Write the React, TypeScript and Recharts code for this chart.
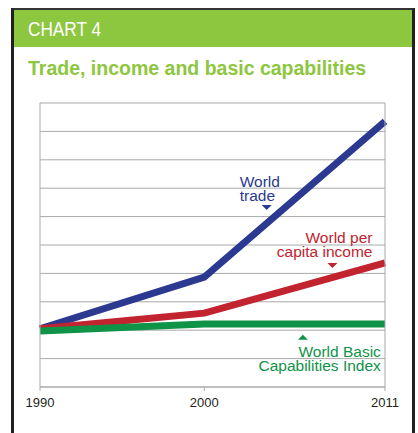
import React from "react";
import { LineChart, Line, XAxis, YAxis, CartesianGrid, ReferenceDot } from "recharts";

// values (index units, grid step = 1)
const years = [1990, 2000, 2011];
const worldTrade = [2.05, 3.87, 9.35];
const worldIncome = [2.05, 2.6, 4.37];
const basicCapabilities = [1.97, 2.22, 2.22];
const gridValues = [0, 1, 2, 3, 4, 5, 6, 7, 8, 9, 10];
const yearTicks = [1990, 2000, 2011];

const tradeLabel = ["World", "trade"];
const incomeLabel = ["World per", "capita income"];
const bciLabel = ["World Basic", "Capabilities Index"];

const data = years.map((year, i) => ({
  year,
  trade: worldTrade[i],
  income: worldIncome[i],
  bci: basicCapabilities[i],
}));

const BLUE = "#2b3990";
const RED = "#c1232f";
const GREEN = "#0f9347";
const HEADER = "#8dc63f";
const GRID = "#a7a9ac";
const INK = "#231f20";

const labelFont = "'Liberation Sans', Arial, sans-serif";

function Callout({ cx, cy, lines, color, up, dx, dy, anchor }: any) {
  if (cx == null || cy == null) return null;
  const tri = up
    ? `${cx - 5},${cy + 2} ${cx + 5},${cy + 2} ${cx},${cy - 3}`
    : `${cx - 5},${cy - 2} ${cx + 5},${cy - 2} ${cx},${cy + 3}`;
  return (
    <g>
      <polygon points={tri} fill={color} />
      <text x={cx + dx} y={cy + dy} textAnchor={anchor} fill={color} fontSize={15.5} fontFamily={labelFont}>
        {lines.map((t: string, i: number) => (
          <tspan key={t} x={cx + dx} dy={i === 0 ? 0 : 14}>
            {t}
          </tspan>
        ))}
      </text>
    </g>
  );
}

const NoTick = () => <g />;

export default function App() {
  return (
    <div style={{ position: "absolute", left: 0, top: 0, width: 418, height: 433, overflow: "hidden", background: "#fff" }}>
      {/* frame + header */}
      <div
        style={{
          position: "absolute", left: 11, top: 8, width: 398, height: 430,
          borderLeft: `3px solid ${INK}`, borderTop: `2px solid #333`, borderRight: `3px solid ${INK}`,
        }}
      >
        <div style={{ height: 37, background: HEADER, position: "relative" }}>
          <span
            style={{
              position: "absolute", left: 14, top: 8, color: "#fff", fontFamily: labelFont,
              fontSize: 21, lineHeight: "21px", transform: "scaleX(0.82)", transformOrigin: "left",
              whiteSpace: "nowrap",
            }}
          >
            CHART 4
          </span>
        </div>
      </div>
      <div
        style={{
          position: "absolute", left: 28, top: 56, color: HEADER, fontFamily: labelFont,
          fontWeight: "bold", fontSize: 20, lineHeight: "24px", whiteSpace: "nowrap",
          transform: "scaleX(0.975)", transformOrigin: "left",
        }}
      >
        Trade, income and basic capabilities
      </div>

      <div style={{ position: "absolute", left: 0, top: 0 }}>
        <LineChart width={418} height={433} data={data} margin={{ top: 103, right: 32, bottom: 16, left: 39 }}>
          <CartesianGrid
            yAxisId="main"
            vertical={false}
            horizontalValues={gridValues}
            stroke={GRID}
            strokeWidth={1}
          />
          <XAxis
            dataKey="year"
            type="number"
            domain={[1990, 2011]}
            ticks={yearTicks}
            interval={0}
            height={30}
            axisLine={{ stroke: GRID }}
            tickLine={{ stroke: GRID }}
            tickSize={4}
            tickMargin={7}
            tick={{ fill: INK, fontSize: 13, fontFamily: labelFont }}
          />
          <YAxis
            yAxisId="main"
            type="number"
            domain={[0, 10]}
            ticks={gridValues}
            interval={0}
            width={1}
            tick={NoTick}
            tickLine={false}
            axisLine={{ stroke: GRID }}
          />
          <YAxis
            yAxisId="frame"
            orientation="right"
            type="number"
            domain={[0, 10]}
            width={1}
            tick={false}
            tickLine={false}
            axisLine={{ stroke: GRID }}
          />
          <Line yAxisId="main" type="linear" dataKey="trade" stroke={BLUE} strokeWidth={7} dot={false} isAnimationActive={false} />
          <Line yAxisId="main" type="linear" dataKey="income" stroke={RED} strokeWidth={7} dot={false} isAnimationActive={false} />
          <Line yAxisId="main" type="linear" dataKey="bci" stroke={GREEN} strokeWidth={7} dot={false} isAnimationActive={false} />

          <ReferenceDot
            yAxisId="main"
            x={2003.8}
            y={6.34}
            r={0}
            shape={(p: any) => <Callout {...p} lines={tradeLabel} color={BLUE} dx={-27} dy={-20} anchor="start" />}
          />
          <ReferenceDot
            yAxisId="main"
            x={2007.8}
            y={4.3}
            r={0}
            shape={(p: any) => <Callout {...p} lines={incomeLabel} color={RED} dx={40} dy={-22} anchor="end" />}
          />
          <ReferenceDot
            yAxisId="main"
            x={2006}
            y={1.73}
            r={0}
            shape={(p: any) => <Callout {...p} lines={bciLabel} color={GREEN} up dx={78} dy={19} anchor="end" />}
          />
        </LineChart>
      </div>
    </div>
  );
}
